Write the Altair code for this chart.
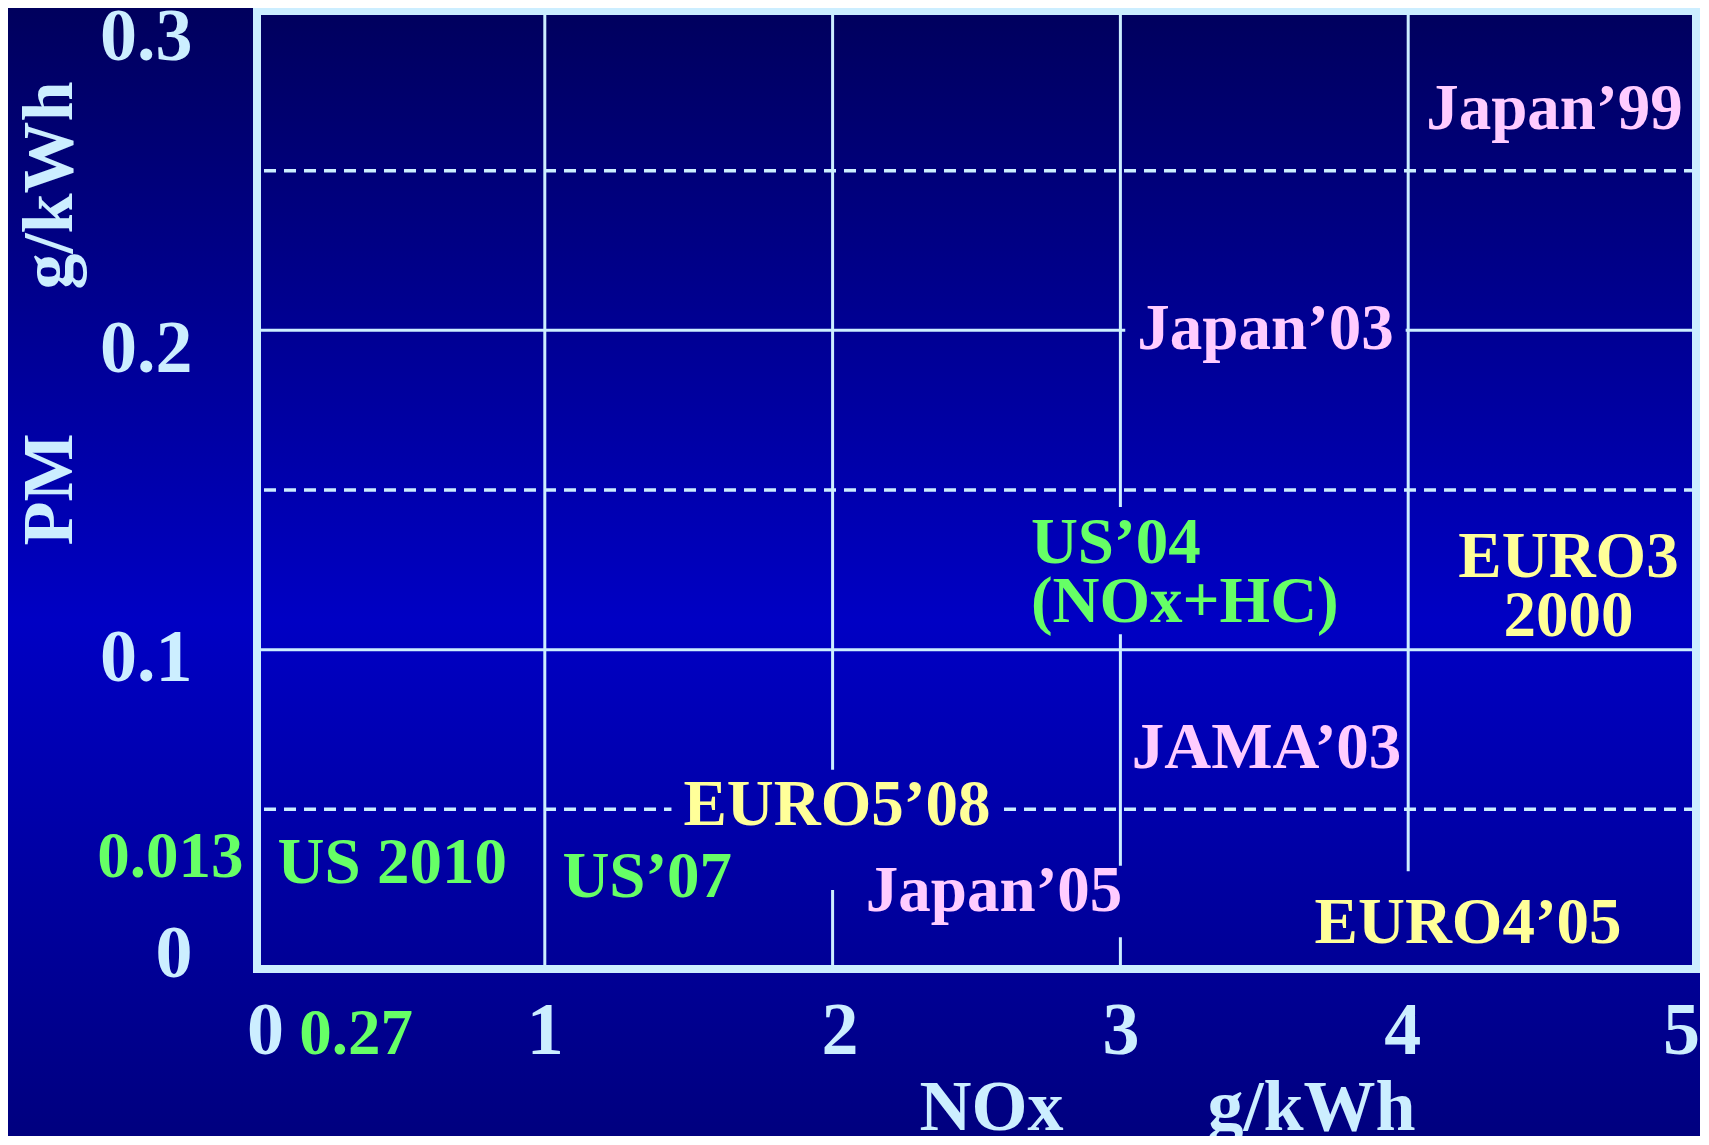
import altair as alt
import pandas as pd

# ---------------- data ----------------
x_ticks = [0, 0.27, 1, 2, 3, 4, 5]
y_ticks = [0, 0.013, 0.1, 0.2, 0.3]
v_grid = [1, 2, 3, 4]
h_grid_solid = [0.1, 0.2]
h_grid_dashed = [0.05, 0.15, 0.25]

labels = ["Japan’99", "Japan’03", "US’04\n(NOx+HC)", "EURO3\n2000",
          "JAMA’03", "EURO5’08", "US 2010", "US’07", "Japan’05", "EURO4’05"]
label_x = [4.508, 3.504, 2.689, 4.557, 3.508, 2.015, 0.470, 1.356, 2.561, 4.208]
label_y = [0.2631, 0.1942, 0.1272, 0.1227, 0.0628, 0.0451, 0.0270, 0.0225, 0.0181, 0.0082]
label_group = ["Japan", "Japan", "US", "EURO", "Japan", "EURO", "US", "US", "Japan", "EURO"]
label_align = ["center", "center", "left", "center", "center", "center",
               "center", "center", "center", "center"]

# labels whose opaque box hides the grid behind them: (extent below baseline, above), in font sizes
box_pad = {"Japan’03": (0.3, 0.85), "US’04\n(NOx+HC)": (1.1, 0.86),
           "EURO5’08": (1.0, 0.85), "Japan’05": (0.4, 0.7), "EURO4’05": (0.45, 1.1)}

# ---------------- style ----------------
W, H = 1439, 958
PAD = {"left": 249, "top": 3, "right": 4, "bottom": 167}
CANVAS_H = PAD["top"] + H + PAD["bottom"]
LC = "#cceeff"
PINK, GREEN, YELLOW = "#ffccff", "#66ff66", "#ffff99"
FONT = "Liberation Serif"
FS = 65
LH = 59
NB = "\u00a0"
XPU = W / 5.0
YPU = H / 0.3

grad_pts = [(0, 92), (620, 196), (1145, 126)]   # page y -> blue channel


def blue_at(py):
    for (a, ca), (b, cb) in zip(grad_pts, grad_pts[1:]):
        if py <= b:
            return ca + (cb - ca) * (py - a) / (b - a)
    return grad_pts[-1][1]


def hexblue(v):
    return "#0000%02x" % int(round(v))


PAGE_TOP, PAGE_BOT = 8, 8 + CANVAS_H


def gradient(top, bottom):
    """Background gradient expressed in the bounding box of an item spanning page y top..bottom."""
    span = bottom - top
    return alt.LinearGradient(
        gradient="linear", x1=0, x2=0,
        y1=(PAGE_TOP - top) / span, y2=(PAGE_BOT - top) / span,
        stops=[alt.GradientStop(offset=0, color=hexblue(blue_at(PAGE_TOP))),
               alt.GradientStop(offset=(620 - PAGE_TOP) / (PAGE_BOT - PAGE_TOP), color=hexblue(196)),
               alt.GradientStop(offset=1, color=hexblue(blue_at(PAGE_BOT)))])


char_w = {"J": .5, "a": .5, "p": .556, "n": .556, "’": .333, "U": .722, "S": .556,
          "(": .333, ")": .333, "N": .722, "O": .778, "x": .5, "+": .570, "H": .778,
          "C": .722, "E": .667, "R": .722, "M": .944, "A": .722, " ": .25}


def text_w(s):
    return max(sum(char_w.get(c, .5) for c in line) for line in s.split("\n")) * FS


lab_df = pd.DataFrame({"label": labels, "x": label_x, "y": label_y,
                       "grp": label_group, "align": label_align})

xs = alt.Scale(domain=[0, 5], nice=False, zero=False)
ys = alt.Scale(domain=[0, 0.3], nice=False, zero=False)

x_axis = alt.Axis(
    values=x_ticks, labelExpr="toString(datum.value)",
    title="NOx" + NB * 8 + "g/kWh",
    titleFont=FONT, titleFontWeight="bold", titleFontSize=72, titleColor=LC,
    titleAlign="left", titleBaseline="alphabetic", titleX=662, titleY=160,
    labelFont=FONT, labelFontWeight="bold",
    labelFontSize={"condition": {"test": "datum.value == 0.27", "value": 65}, "value": 74},
    labelColor={"condition": {"test": "datum.value == 0.27", "value": GREEN}, "value": LC},
    labelOffset={"condition": [
        {"test": "datum.value == 0.27", "value": 21},
        {"test": "datum.value == 5", "value": -15},
        {"test": "datum.value == 0", "value": 8},
        {"test": "datum.value == 2", "value": 7},
        {"test": "datum.value == 4", "value": -6}], "value": 0},
    labelBaseline="alphabetic", labelPadding=84, labelFlush=False, labelOverlap=False,
    ticks=False, tickSize=0, domain=False, grid=False, zindex=1,
)

y_axis = alt.Axis(
    values=y_ticks, labelExpr="toString(datum.value)",
    title="PM" + NB * 8 + "g/kWh",
    titleFont=FONT, titleFontWeight="bold", titleFontSize=72, titleColor=LC,
    titleAngle=270, titleAlign="left", titleBaseline="alphabetic", titleX=-186, titleY=534,
    labelFont=FONT, labelFontWeight="bold",
    labelFontSize={"condition": {"test": "datum.value == 0.013", "value": 65}, "value": 74},
    labelColor={"condition": {"test": "datum.value == 0.013", "value": GREEN}, "value": LC},
    labelOffset={"condition": [
        {"test": "datum.value == 0.3", "value": 26},
        {"test": "datum.value == 0.2", "value": 19},
        {"test": "datum.value == 0.1", "value": 9},
        {"test": "datum.value == 0", "value": -15},
        {"test": "datum.value == 0.013", "value": -71}], "value": 0},
    labelPadding={"condition": {"test": "datum.value == 0.013", "value": 14}, "value": 65},
    labelFlush=False, labelOverlap=False,
    ticks=False, tickSize=0, domain=False, grid=False, zindex=1,
)

X = alt.X("x:Q", scale=xs, axis=x_axis)
Y = alt.Y("y:Q", scale=ys, axis=y_axis)

one = pd.DataFrame({"k": [0]})

background = alt.Chart(one).mark_rect(
    fill=gradient(PAGE_TOP, PAGE_BOT), strokeWidth=0,
).encode(
    x=alt.value(-PAD["left"]), x2=alt.value(W + PAD["right"]),
    y=alt.value(-PAD["top"]), y2=alt.value(H + PAD["bottom"]),
)

vlines = alt.Chart(pd.DataFrame({"x": v_grid})).mark_rule(
    color=LC, strokeWidth=3).encode(x=X)

hsolid = alt.Chart(pd.DataFrame({"y": h_grid_solid})).mark_rule(
    color=LC, strokeWidth=3).encode(y=Y)

hdash = alt.Chart(pd.DataFrame({"y": h_grid_dashed})).mark_rule(
    color=LC, strokeWidth=3.5, strokeDash=[12, 8]).encode(y=Y)

# opaque label boxes (as in the original slide) hiding the grid behind some labels
box_layers = []
for s, xc, yb, al in zip(labels, label_x, label_y, label_align):
    if s not in box_pad:
        continue
    down, up = box_pad[s]
    w = text_w(s)
    if al == "left":
        x1, x2 = xc - 12 / XPU, xc + (w + 12) / XPU
    else:
        x1, x2 = xc - (w / 2 + 12) / XPU, xc + (w / 2 + 12) / XPU
    y1 = yb - down * FS / YPU
    y2 = yb + up * FS / YPU
    top = 11 + (0.3 - y2) * YPU
    bottom = 11 + (0.3 - y1) * YPU
    box_layers.append(
        alt.Chart(pd.DataFrame({"x": [x1], "x2": [x2], "y": [y1], "y2": [y2]}))
        .mark_rect(fill=gradient(top, bottom), strokeWidth=0)
        .encode(x=X, x2="x2:Q", y=Y, y2="y2:Q")
    )

tcolor = alt.Color("grp:N", scale=alt.Scale(domain=["Japan", "US", "EURO"],
                                            range=[PINK, GREEN, YELLOW]), legend=None)


def text_layer(al):
    return alt.Chart(lab_df).transform_filter(
        alt.datum.align == al
    ).mark_text(
        font=FONT, fontWeight="bold", fontSize=FS, align=al, baseline="alphabetic",
        lineBreak="\n", lineHeight=LH,
    ).encode(x=X, y=Y, text="label:N", color=tcolor)


frame = alt.Chart(one).mark_rect(fillOpacity=0, stroke=LC, strokeWidth=8).encode(
    x=alt.value(0), x2=alt.value(W), y=alt.value(0), y2=alt.value(H))

chart = alt.layer(background, vlines, hsolid, hdash, *box_layers,
                  text_layer("center"), text_layer("left"), frame).properties(
    width=W, height=H,
    autosize=alt.AutoSizeParams(type="none"),
    padding=PAD,
    background="#000080",
).configure_view(stroke=None)

chart.save("out.html", embed_options={"renderer": "svg", "actions": False})
